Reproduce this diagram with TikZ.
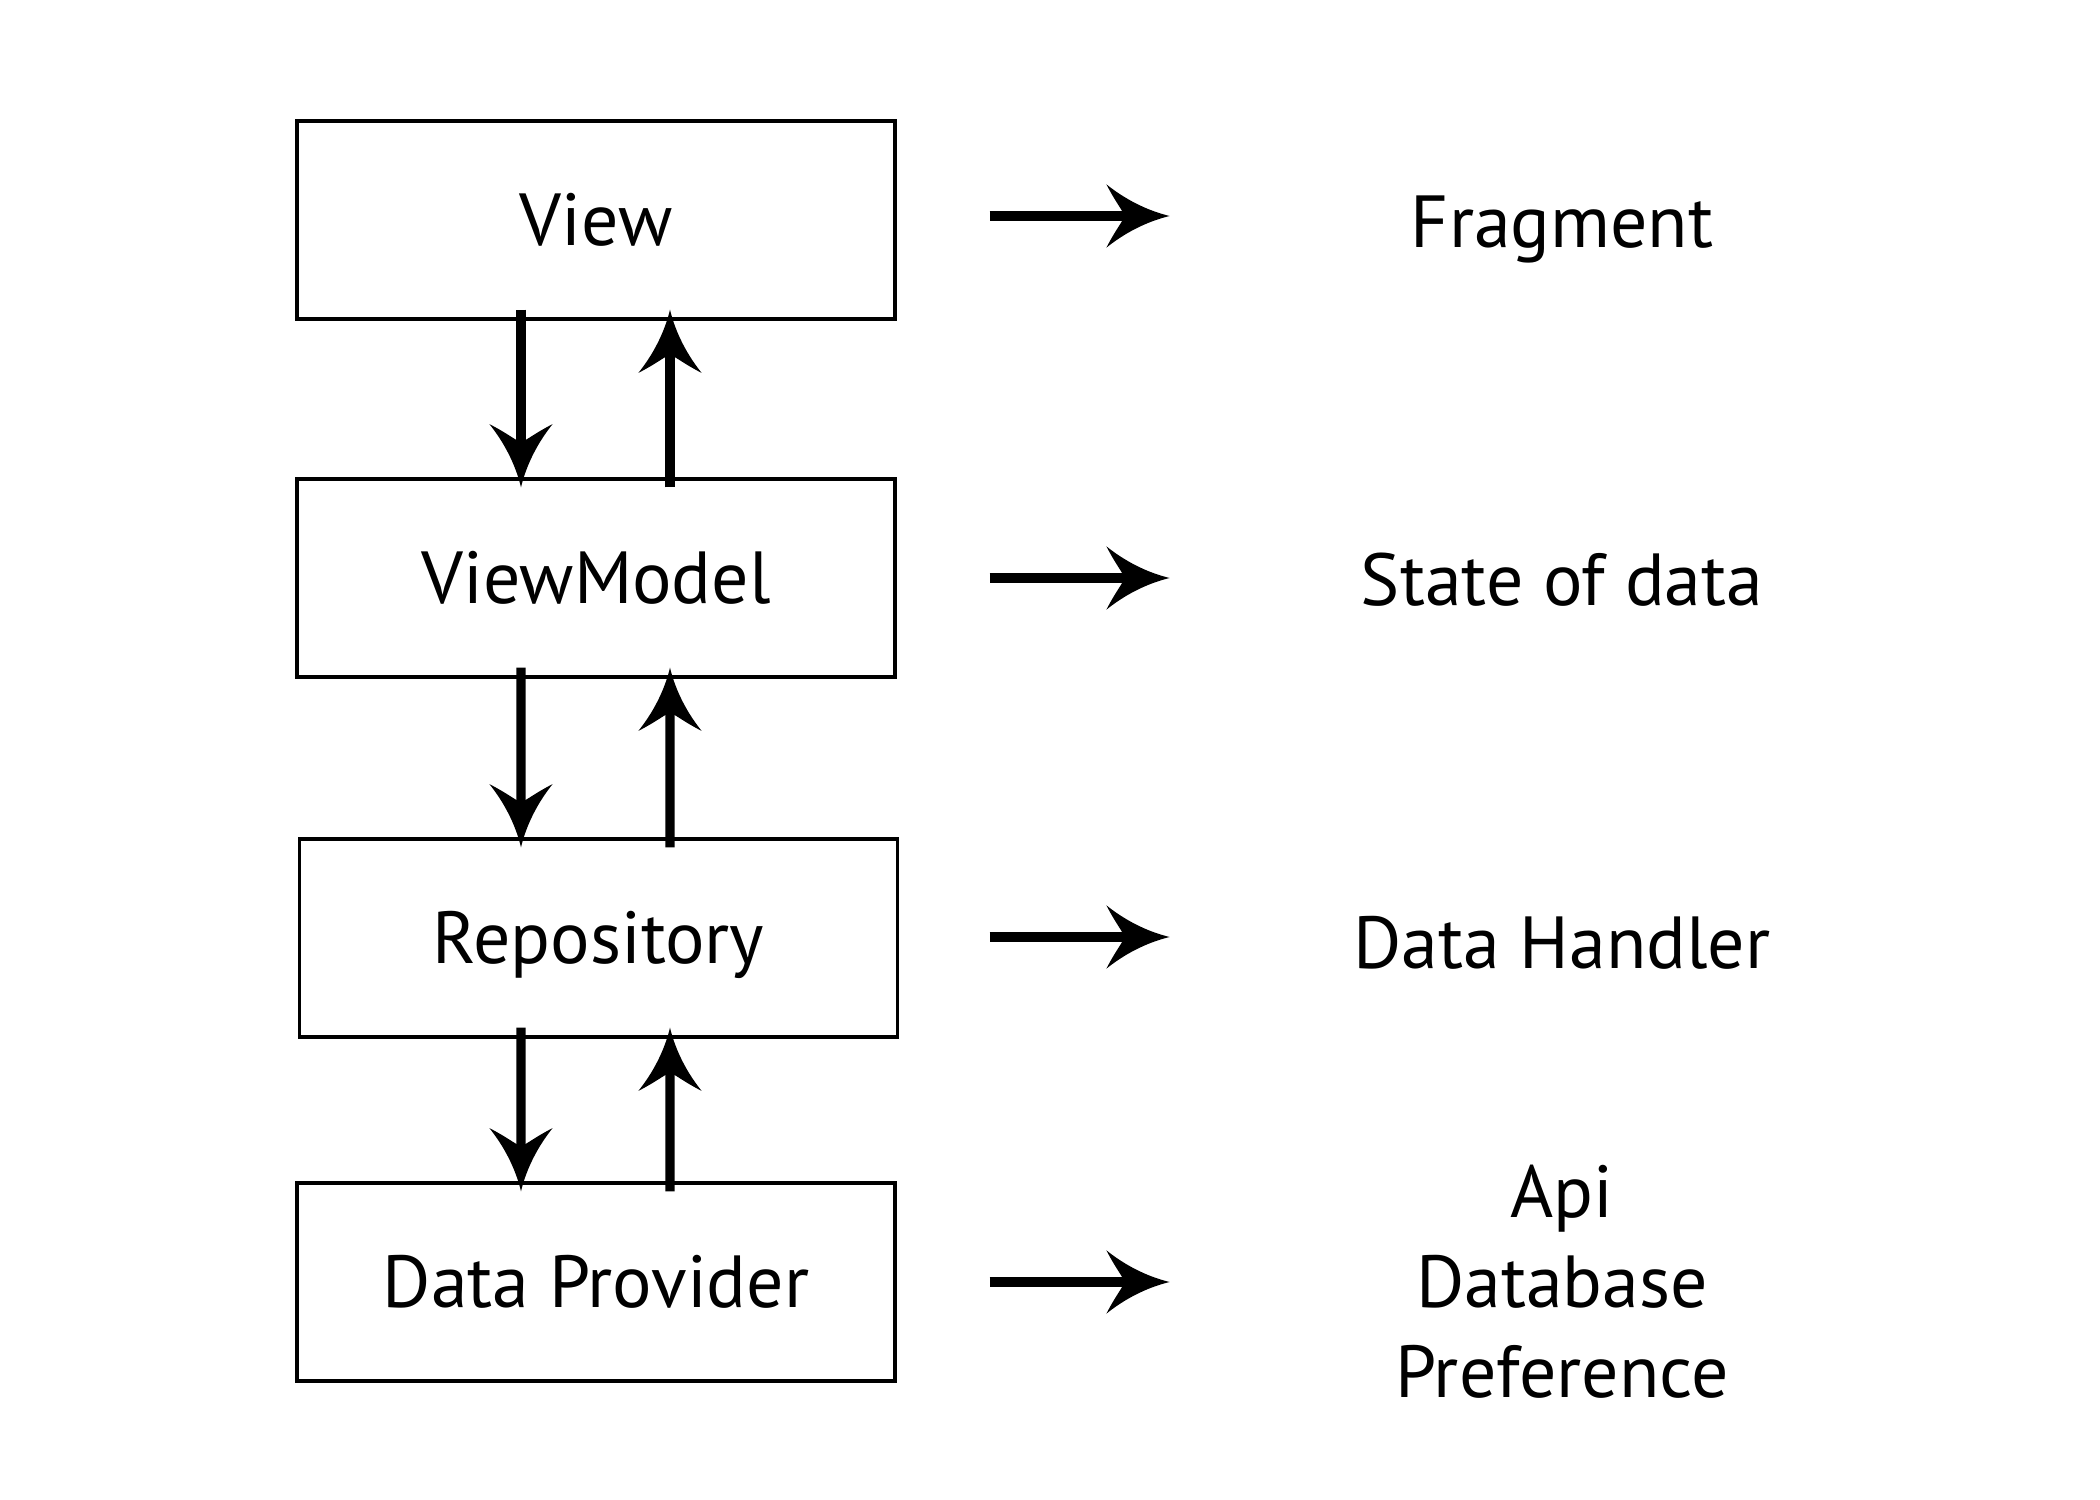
\documentclass[tikz,border=0pt]{standalone}
\usepackage{fontspec}
\setmainfont{PT Sans}
\usetikzlibrary{arrows.meta}
\pgfdeclarearrow{
  name = CHead,
  setup code = {
    \pgfarrowssettipend{0pt}
    \pgfarrowssetlineend{-11.5pt}
    \pgfarrowssetbackend{-18pt}
    \pgfarrowshullpoint{0pt}{0pt}
    \pgfarrowshullpoint{-18pt}{9pt}
    \pgfarrowshullpoint{-18pt}{-9pt}
  },
  drawing code = {
    \pgfpathmoveto{\pgfqpoint{0pt}{0pt}}
    \pgfpathcurveto{\pgfqpoint{-5pt}{1.2pt}}{\pgfqpoint{-11.5pt}{3.8pt}}{\pgfqpoint{-18pt}{9pt}}
    \pgfpathcurveto{\pgfqpoint{-15pt}{3.2pt}}{\pgfqpoint{-13pt}{1.2pt}}{\pgfqpoint{-13pt}{0pt}}
    \pgfpathcurveto{\pgfqpoint{-13pt}{-1.2pt}}{\pgfqpoint{-15pt}{-3.2pt}}{\pgfqpoint{-18pt}{-9pt}}
    \pgfpathcurveto{\pgfqpoint{-11.5pt}{-3.8pt}}{\pgfqpoint{-5pt}{-1.2pt}}{\pgfqpoint{0pt}{0pt}}
    \pgfpathclose
    \pgfusepathqfill
  }
}
\begin{document}
\begin{tikzpicture}[
  layerbox/.style={draw=black, line width=0.95pt, minimum width=5.98cm, minimum height=1.98cm,
    inner sep=0pt, text height=0.52cm, text depth=0pt, font=\fontsize{21}{25}\selectfont},
  lbl/.style={inner sep=0pt, text height=0.52cm, text depth=0pt, font=\fontsize{21}{25}\selectfont},
  flow/.style={line width=2.7pt, -{CHead}},
]
\useasboundingbox (0,0) rectangle (21,15);
\fill[white] (0,0) rectangle (21,15);

\node[layerbox] (view) at (5.96,12.80) {View};
\node[layerbox] (vm) at (5.96,9.22) {ViewModel};
\node[layerbox] (repo) at (5.985,5.62) {Repository};
\node[layerbox] (dp) at (5.96,2.18) {Data Provider};

\node[lbl] (frag) at (15.62,12.78) {Fragment};
\node[lbl] (state) at (15.62,9.20) {State of data};
\node[lbl] (handler) at (15.62,5.57) {Data Handler};
\node[lbl] (api) at (15.62,3.09) {Api};
\node[lbl] (db) at (15.62,2.18) {Database};
\node[lbl] (pref) at (15.62,1.29) {Preference};

% vertical arrows
\draw[flow] ([xshift=-0.75cm,yshift=0.11cm]view.south) -- ([xshift=-0.75cm,yshift=-0.1cm]vm.north);
\draw[flow] ([xshift=0.74cm,yshift=-0.1cm]vm.north) -- ([xshift=0.74cm,yshift=0.11cm]view.south);
\draw[flow] ([xshift=-0.75cm,yshift=0.11cm]vm.south) -- ([xshift=-0.775cm,yshift=-0.1cm]repo.north);
\draw[flow] ([xshift=0.715cm,yshift=-0.1cm]repo.north) -- ([xshift=0.74cm,yshift=0.11cm]vm.south);
\draw[flow] ([xshift=-0.775cm,yshift=0.11cm]repo.south) -- ([xshift=-0.75cm,yshift=-0.1cm]dp.north);
\draw[flow] ([xshift=0.74cm,yshift=-0.1cm]dp.north) -- ([xshift=0.715cm,yshift=0.11cm]repo.south);

% horizontal arrows
\draw[flow] ([xshift=0.93cm,yshift=0.04cm]view.east) -- ([xshift=2.73cm,yshift=0.04cm]view.east);
\draw[flow] ([xshift=0.93cm,yshift=0.0cm]vm.east) -- ([xshift=2.73cm,yshift=0.0cm]vm.east);
\draw[flow] ([xshift=0.905cm,yshift=0.01cm]repo.east) -- ([xshift=2.705cm,yshift=0.01cm]repo.east);
\draw[flow] ([xshift=0.93cm,yshift=0.0cm]dp.east) -- ([xshift=2.73cm,yshift=0.0cm]dp.east);
\end{tikzpicture}
\end{document}
